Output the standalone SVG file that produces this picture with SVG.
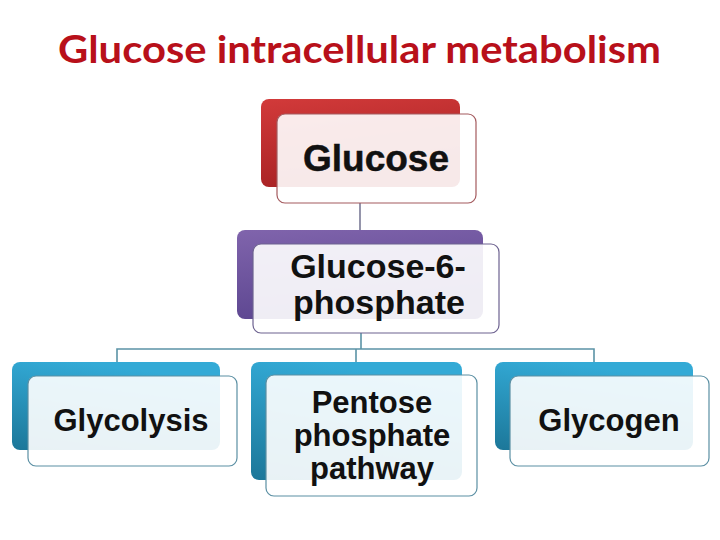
<svg xmlns="http://www.w3.org/2000/svg" width="720" height="540" viewBox="0 0 720 540">
<defs>
<linearGradient id="gRed" x1="0" y1="0" x2="0.3" y2="1">
<stop offset="0" stop-color="#d23a3a"/><stop offset="1" stop-color="#a82224"/>
</linearGradient>
<linearGradient id="gPur" x1="0" y1="0" x2="0.3" y2="1">
<stop offset="0" stop-color="#8064ac"/><stop offset="1" stop-color="#5c4690"/>
</linearGradient>
<linearGradient id="gBlu" x1="0.3" y1="0" x2="0" y2="1">
<stop offset="0" stop-color="#33aad6"/><stop offset="1" stop-color="#1c7799"/>
</linearGradient>
<style>
.front{fill:#ffffff;fill-opacity:0.9;stroke-width:1.2}
.lbl{font-family:"Liberation Sans",Arial,sans-serif;font-weight:bold;fill:#111;text-anchor:middle}
.conn{fill:none;stroke-width:1.6}
</style>
</defs>
<rect width="720" height="540" fill="#ffffff"/>
<text x="359.5" y="63" font-family="Lato,'Liberation Sans',sans-serif" font-weight="bold" font-size="38" fill="#b8101a" text-anchor="middle" textLength="603" lengthAdjust="spacingAndGlyphs">Glucose intracellular metabolism</text>

<g id="connectors">
<path class="conn" stroke="#7a7a96" d="M360 203 V230"/>
<path class="conn" stroke="#5b93a6" d="M361 333 V349 M117 362 V349 H594 V362 M356 349 V362"/>
</g>

<g id="glucose">
<rect x="261" y="99" width="199" height="88" rx="8" fill="url(#gRed)"/>
<rect class="front" x="277" y="114" width="199" height="89" rx="8" stroke="#a45a5e"/>
<text class="lbl" x="376" y="171" font-size="37" font-weight="normal" stroke="#111" stroke-width="0.5">Glucose</text>
</g>

<g id="g6p">
<rect x="237" y="230" width="246" height="89" rx="8" fill="url(#gPur)"/>
<rect class="front" x="253" y="244" width="246" height="89" rx="8" stroke="#6d6290"/>
<text class="lbl" x="378" y="278" font-size="34">Glucose-6-</text>
<text class="lbl" x="379" y="314" font-size="34">phosphate</text>
</g>

<g id="glycolysis">
<rect x="12" y="362" width="208" height="88" rx="8" fill="url(#gBlu)"/>
<rect class="front" x="28" y="376" width="209" height="90" rx="8" stroke="#5a8fa3"/>
<text class="lbl" x="131" y="431" font-size="31">Glycolysis</text>
</g>

<g id="pentose">
<rect x="251" y="362" width="211" height="118" rx="8" fill="url(#gBlu)"/>
<rect class="front" x="266" y="375" width="211" height="121" rx="8" stroke="#5a8fa3"/>
<text class="lbl" x="372" y="413" font-size="31">Pentose</text>
<text class="lbl" x="372" y="446" font-size="31">phosphate</text>
<text class="lbl" x="372" y="479" font-size="31">pathway</text>
</g>

<g id="glycogen">
<rect x="495" y="362" width="198" height="88" rx="8" fill="url(#gBlu)"/>
<rect class="front" x="510" y="376" width="199" height="90" rx="8" stroke="#5a8fa3"/>
<text class="lbl" x="609" y="431" font-size="31">Glycogen</text>
</g>
</svg>
